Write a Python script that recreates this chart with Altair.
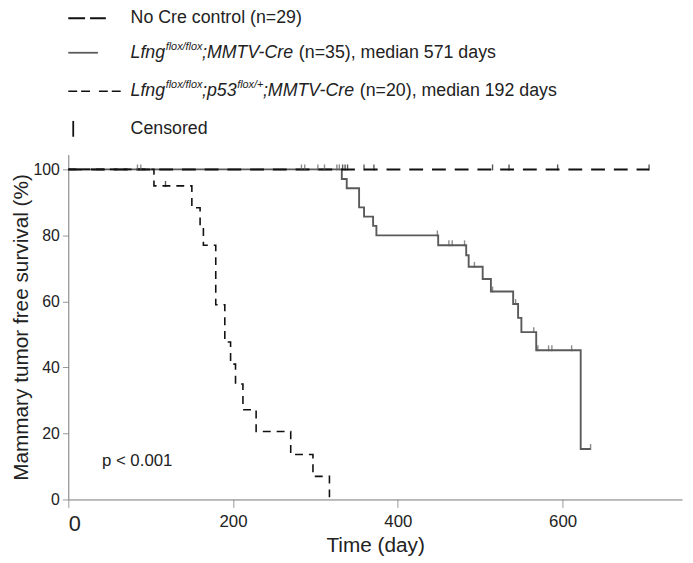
import altair as alt
import pandas as pd

# ---- data ----
ctrl_days = [0, 705]
ctrl_surv = [100, 100]

lfng_days = [0, 332, 338, 353, 359, 370, 374, 449, 483, 486, 503, 513, 540, 546, 550, 568, 622, 634]
lfng_surv = [100, 97.1, 94.3, 88.5, 85.7, 82.9, 80, 77, 74, 70.5, 66.8, 63, 59.2, 55, 50.7, 45.2, 15.3, 15.3]

p53_days = [0, 104, 150, 160, 164, 179, 190, 197, 203, 212, 228, 270, 297, 317]
p53_surv = [100, 95, 88.4, 82, 77, 59, 47.7, 41, 35, 27.2, 20.6, 13.6, 7, 0]

ctrl_cens_days = [333, 336, 339, 359, 371, 515, 535, 594, 705]
ctrl_cens_surv = [100, 100, 100, 100, 100, 100, 100, 100, 100]

lfng_cens_days = [84, 88, 283, 287, 303, 311, 326, 329, 448, 462, 466, 481, 493, 515, 543, 565, 570, 583, 587, 611, 634]
lfng_cens_surv = [100, 100, 100, 100, 100, 100, 100, 100, 80, 77, 77, 77, 70.5, 63, 59.2, 50.7, 45.2, 45.2, 45.2, 45.2, 15.3]

p53_cens_days = [118]
p53_cens_surv = [95]

x_ticks = [0, 200, 400, 600]
y_ticks = [0, 20, 40, 60, 80, 100]

FONT = "Liberation Sans, Arial, sans-serif"
W, H = 621, 349
XDOM = [0, 745]
YDOM = [0, 104.5]

xs = alt.Scale(domain=XDOM, nice=False, zero=False)
ys = alt.Scale(domain=YDOM, nice=False, zero=False)

def df(d, s):
    return pd.DataFrame({"day": d, "surv": s})

x_enc = alt.X("day:Q", scale=xs, axis=alt.Axis(
    values=x_ticks, title="Time (day)", grid=False, tickSize=8,
    labelFontSize=alt.expr("datum.value == 0 ? 22 : 17"),
    labelFont=FONT, titleFont=FONT, titleFontSize=21, titleFontWeight="normal",
    labelColor="#222", titleColor="#222", domainColor="#777", tickColor="#999",
    labelPadding=6, titlePadding=1))
y_enc = alt.Y("surv:Q", scale=ys, axis=alt.Axis(
    values=y_ticks, title="Mammary tumor free survival (%)", grid=False, tickSize=6,
    labelFontSize=16, labelFont=FONT, titleFont=FONT, titleFontSize=21,
    titleFontWeight="normal", labelColor="#222", titleColor="#222",
    domainColor="#777", tickColor="#999", labelPadding=3, titlePadding=2))

lfng_line = alt.Chart(df(lfng_days, lfng_surv)).mark_line(
    interpolate="step-after", color="#5a5a5a", strokeWidth=1.9).encode(x=x_enc, y=y_enc)
ctrl_line = alt.Chart(df(ctrl_days, ctrl_surv)).mark_line(
    interpolate="step-after", color="#111", strokeWidth=2, strokeDash=[14, 9]).encode(x="day:Q", y="surv:Q")
p53_line = alt.Chart(df(p53_days, p53_surv)).mark_line(
    interpolate="step-after", color="#111", strokeWidth=1.6, strokeDash=[8, 6]).encode(x="day:Q", y="surv:Q")

def cens(d, s, color):
    return alt.Chart(df(d, s)).mark_tick(orient="vertical", size=6, thickness=1.4,
                                         color=color, yOffset=-2).encode(x="day:Q", y="surv:Q")

lfng_c = cens(lfng_cens_days, lfng_cens_surv, "#5a5a5a")
ctrl_c = cens(ctrl_cens_days, ctrl_cens_surv, "#111")
p53_c = cens(p53_cens_days, p53_cens_surv, "#111")

# ---- custom legend (layout only) ----
AW = {'L':556,'f':278,'n':556,'g':556,'l':222,'o':556,'x':500,'/':278,';':278,'M':833,
      'T':611,'V':667,'-':333,'C':722,'r':333,'e':556,' ':278,'(':333,'=':584,')':333,
      ',':278,'m':833,'d':556,'i':222,'a':556,'s':500,'y':500,'p':556,'+':584,'N':722,
      'c':500,'t':278,'u':556}
for dch in "0123456789":
    AW[dch] = 556

def tw(s, size):
    return sum(AW.get(ch, 556) for ch in s) * size / 1000.0

one = alt.Data(values=[{"a": 1}])
LEG_SIZE = 18
SUP_SIZE = 11
TX = 63
rows_y = [-138, -103, -64, -26]

legend_layers = []

def seg_text(x, y, txt, size, italic):
    return alt.Chart(one).mark_text(
        align="left", baseline="middle", font=FONT, fontSize=size,
        fontStyle="italic" if italic else "normal", color="#222"
    ).encode(x=alt.value(x), y=alt.value(y), text=alt.value(txt))

def rich_row(y, segments):
    x = TX
    for txt, kind in segments:
        size = SUP_SIZE if kind == "sup" else LEG_SIZE
        lead = len(txt) - len(txt.lstrip(" "))
        x += lead * 278 * size / 1000.0
        body = txt.lstrip(" ")
        if kind == "sup":
            legend_layers.append(seg_text(x + 0.5, y - 6, body, size, True))
        else:
            legend_layers.append(seg_text(x, y, body, size, kind == "it"))
        x += tw(body, size)

rich_row(rows_y[0], [("No Cre control (n=29)", "rm")])
rich_row(rows_y[1], [("Lfng", "it"), ("flox/flox", "sup"), (";MMTV-Cre", "it"),
                     (" (n=35), median 571 days", "rm")])
rich_row(rows_y[2], [("Lfng", "it"), ("flox/flox", "sup"), (";p53", "it"), ("flox/+", "sup"),
                     (";MMTV-Cre", "it"), (" (n=20), median 192 days", "rm")])
rich_row(rows_y[3], [("Censored", "rm")])

def leg_rule(x1, x2, y1, y2, color, width, dash=None):
    kw = dict(color=color, strokeWidth=width)
    if dash:
        kw["strokeDash"] = dash
    return alt.Chart(one).mark_rule(**kw).encode(
        x=alt.value(x1), x2=alt.value(x2), y=alt.value(y1), y2=alt.value(y2))

legend_layers.append(leg_rule(0, 38, rows_y[0], rows_y[0], "#111", 2, [17, 5]))
legend_layers.append(leg_rule(0, 30, rows_y[1], rows_y[1], "#5a5a5a", 1.8))
legend_layers.append(leg_rule(0, 53, rows_y[2], rows_y[2], "#111", 1.6, [9, 4, 9, 9]))
legend_layers.append(leg_rule(5, 5, rows_y[3] - 8, rows_y[3] + 8, "#111", 1.8))

pval = alt.Chart(one).mark_text(align="left", baseline="middle", font=FONT,
                                fontSize=17, color="#222").encode(
    x=alt.value(34), y=alt.value(310), text=alt.value("p < 0.001"))

chart = alt.layer(lfng_line, ctrl_line, p53_line, lfng_c, ctrl_c, p53_c, pval,
                  *legend_layers).properties(
    width=W, height=H,
    autosize=alt.AutoSizeParams(type="none"),
    padding={"left": 61, "top": 145, "right": 3, "bottom": 60},
).configure_view(stroke=None)

chart.save("out.html", embed_options={"renderer": "svg", "actions": False})
